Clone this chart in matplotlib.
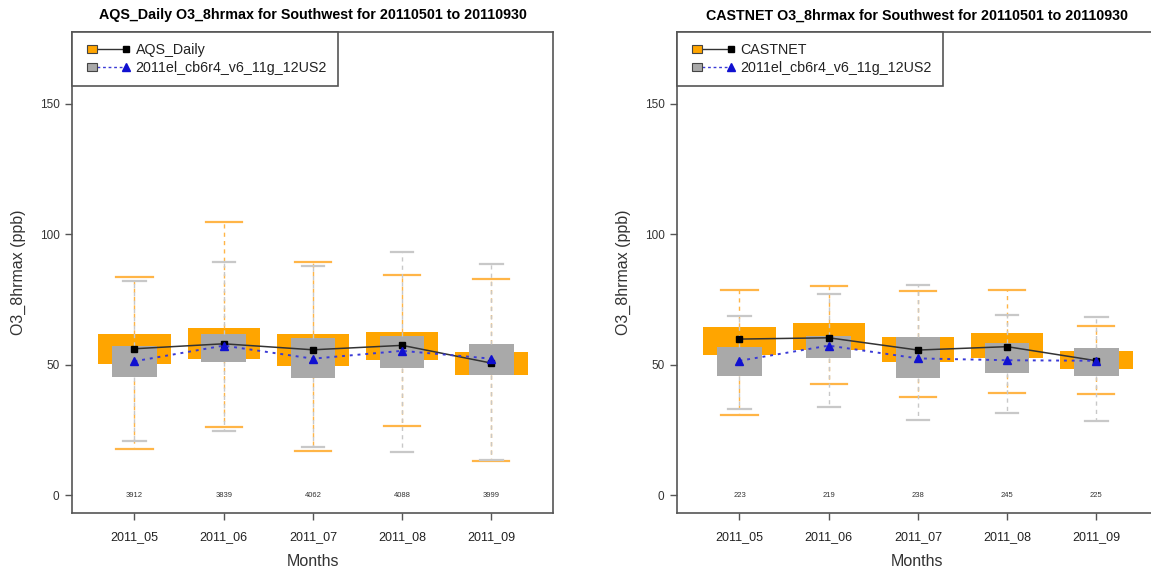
import matplotlib
matplotlib.use("Agg")
import matplotlib.pyplot as plt
from matplotlib.patches import Rectangle
from matplotlib.lines import Line2D
from matplotlib.legend_handler import HandlerBase

plt.rcParams['font.family'] = ['Liberation Sans', 'DejaVu Sans']

months = ["2011_05", "2011_06", "2011_07", "2011_08", "2011_09"]

# Left panel: AQS_Daily (obs) and model
aqs_whislo = [17.8, 26.1, 16.9, 26.7, 13.0]
aqs_q1     = [50.3, 52.3, 49.4, 51.7, 45.9]
aqs_med    = [56.1, 58.0, 55.7, 57.4, 50.6]
aqs_q3     = [61.8, 64.2, 61.8, 62.7, 55.0]
aqs_whishi = [83.7, 104.5, 89.2, 84.4, 82.8]
aqs_counts = [3912, 3839, 4062, 4088, 3999]

aqs_mod_whislo = [20.9, 24.7, 18.4, 16.5, 13.4]
aqs_mod_q1     = [45.3, 50.9, 44.9, 48.6, 46.2]
aqs_mod_med    = [51.3, 57.3, 52.3, 55.3, 52.3]
aqs_mod_q3     = [57.1, 61.8, 60.2, 60.8, 58.0]
aqs_mod_whishi = [82.1, 89.4, 87.8, 93.3, 88.7]

# Right panel: CASTNET (obs) and model
cas_whislo = [30.8, 42.5, 37.7, 39.2, 38.7]
cas_q1     = [53.7, 55.8, 50.9, 52.4, 48.2]
cas_med    = [59.8, 60.3, 55.6, 56.9, 51.5]
cas_q3     = [64.6, 66.0, 60.6, 62.1, 55.1]
cas_whishi = [78.5, 80.0, 78.4, 78.5, 64.9]
cas_counts = [223, 219, 238, 245, 225]

cas_mod_whislo = [33.1, 33.9, 29.0, 31.6, 28.5]
cas_mod_q1     = [45.5, 52.4, 44.8, 46.7, 45.5]
cas_mod_med    = [51.5, 57.3, 52.4, 51.7, 51.5]
cas_mod_q3     = [56.6, 60.8, 60.6, 58.3, 56.2]
cas_mod_whishi = [68.6, 77.0, 80.7, 69.2, 68.1]

model_name = "2011el_cb6r4_v6_11g_12US2"

OBS_FACE = "#FFA500"
OBS_WHISK = "#FFB547"
MOD_FACE = "#A9A9A9"
MOD_WHISK = "#C8C8C8"
MOD_LINE = "#3a3ad6"
SPINE = "#555555"


class BoxLineHandler(HandlerBase):
    def __init__(self, face, lcolor, ls, marker, mcolor, msize):
        super().__init__()
        self.face = face
        self.lcolor = lcolor
        self.ls = ls
        self.marker = marker
        self.mcolor = mcolor
        self.msize = msize

    def create_artists(self, legend, orig_handle, xdescent, ydescent,
                       width, height, fontsize, trans):
        s = height * 0.8
        x0 = -xdescent + 3
        ymid = -ydescent + height / 2.0
        sq = Rectangle((x0, ymid - s / 2.0), s * 1.25, s, facecolor=self.face,
                       edgecolor="#444444", linewidth=0.8, transform=trans)
        ln = Line2D([x0 + s * 1.25, -xdescent + width], [ymid, ymid], color=self.lcolor,
                    linestyle=self.ls, linewidth=1.0, transform=trans)
        mk = Line2D([-xdescent + width], [ymid], marker=self.marker, color=self.mcolor,
                    markersize=self.msize, linestyle="none", transform=trans)
        return [ln, sq, mk]


def stats(wl, q1, med, q3, wh):
    return [dict(whislo=a, q1=b, med=c, q3=d, whishi=e, fliers=[])
            for a, b, c, d, e in zip(wl, q1, med, q3, wh)]


def panel(ax, obs, mod, counts, obs_name, title):
    pos = list(range(1, len(months) + 1))
    for st, face, wcol, width in ((obs, OBS_FACE, OBS_WHISK, 0.81),
                                  (mod, MOD_FACE, MOD_WHISK, 0.5)):
        ax.bxp(stats(*st), positions=pos, widths=width, patch_artist=True,
               showfliers=False, capwidths=width / 2.0,
               boxprops=dict(facecolor=face, edgecolor="none", linewidth=0),
               whiskerprops=dict(color=wcol, linestyle=(0, (3, 3)), linewidth=1.0),
               capprops=dict(color=wcol, linewidth=1.6),
               medianprops=dict(linewidth=0, color=face))
    ax.plot(pos, obs[2], color="#333333", linewidth=1.1, marker="s",
            markersize=4.8, markerfacecolor="black", markeredgecolor="black")
    ax.plot(pos, mod[2], color=MOD_LINE, linewidth=1.4, linestyle=(0, (1.5, 2.5)),
            marker="^", markersize=5.5, markerfacecolor="#1010d0",
            markeredgecolor="#1010d0")
    for p, c in zip(pos, counts):
        ax.text(p, 0, str(c), ha="center", va="center", fontsize=5.5,
                color="#333333")
    ax.set_xlim(0.3, 5.69)
    ax.set_ylim(-6.8, 177.4)
    ax.set_xticks(pos)
    ax.set_xticklabels(months, fontsize=9, color="#222222")
    ax.set_yticks([0, 50, 100, 150])
    ax.set_yticklabels(["0", "50", "100", "150"], fontsize=8.5, color="#333333")
    ax.tick_params(axis="both", length=5, width=1.0, color=SPINE, pad=4)
    ax.tick_params(axis="x", pad=8)
    for sp in ax.spines.values():
        sp.set_color(SPINE)
        sp.set_linewidth(1.2)
    ax.set_xlabel("Months", fontsize=11.5, color="#333333", labelpad=8)
    ax.set_ylabel("O3_8hrmax (ppb)", fontsize=11.5, color="#333333", labelpad=10)
    ax.set_title(title, fontsize=10.3, fontweight="bold", pad=9)
    h1 = Line2D([], [])
    h2 = Line2D([], [])
    leg = ax.legend([h1, h2], [obs_name, model_name], loc="upper left",
                    borderaxespad=0, fancybox=False, fontsize=10.3,
                    handlelength=3.0, handletextpad=0.7, borderpad=0.75,
                    labelspacing=0.3, framealpha=1,
                    handler_map={h1: BoxLineHandler(OBS_FACE, "#333333", "-", "s", "black", 4.2),
                                 h2: BoxLineHandler(MOD_FACE, MOD_LINE, (0, (2, 2)), "^", "#1010d0", 5.2)})
    leg.get_frame().set_edgecolor(SPINE)
    leg.get_frame().set_linewidth(1.2)
    for t in leg.get_texts():
        t.set_color("#222222")


fig = plt.figure(figsize=(11.51, 5.77), dpi=100)
ax1 = fig.add_axes([72 / 1151, 1 - 513 / 577, 481 / 1151, 481 / 577])
ax2 = fig.add_axes([677 / 1151, 1 - 513 / 577, 481 / 1151, 481 / 577])

panel(ax1,
      (aqs_whislo, aqs_q1, aqs_med, aqs_q3, aqs_whishi),
      (aqs_mod_whislo, aqs_mod_q1, aqs_mod_med, aqs_mod_q3, aqs_mod_whishi),
      aqs_counts, "AQS_Daily",
      "AQS_Daily O3_8hrmax for Southwest for 20110501 to 20110930")
panel(ax2,
      (cas_whislo, cas_q1, cas_med, cas_q3, cas_whishi),
      (cas_mod_whislo, cas_mod_q1, cas_mod_med, cas_mod_q3, cas_mod_whishi),
      cas_counts, "CASTNET",
      "CASTNET O3_8hrmax for Southwest for 20110501 to 20110930")

fig.savefig("out.png", dpi=100)
